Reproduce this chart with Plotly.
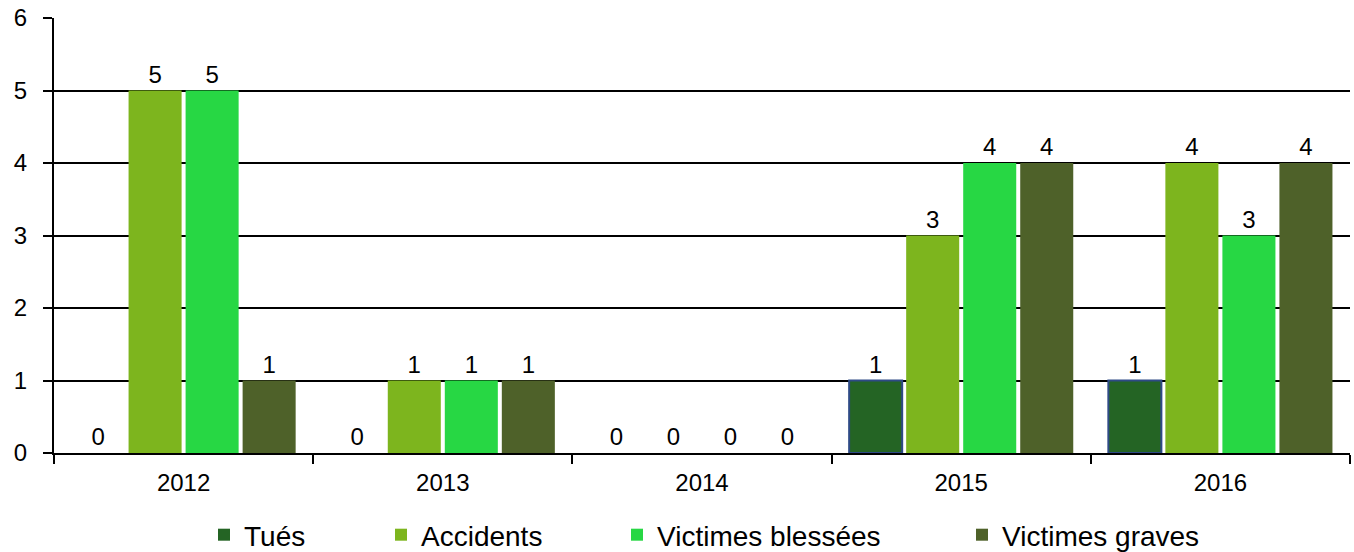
import plotly.graph_objects as go

years = ["2012", "2013", "2014", "2015", "2016"]
tues = [0, 0, 0, 1, 1]
accidents = [5, 1, 0, 3, 4]
blessees = [5, 1, 0, 4, 3]
graves = [1, 1, 0, 4, 4]

series = [
    ("Tués", tues, "#246424", "#2E4A86", 2, "legend"),
    ("Accidents", accidents, "#7DB51E", "#7DB51E", 0, "legend2"),
    ("Victimes blessées", blessees, "#27D744", "#27D744", 0, "legend3"),
    ("Victimes graves", graves, "#4E6129", "#4E6129", 0, "legend4"),
]

FONT = "Liberation Sans, Arial, sans-serif"
fig = go.Figure()
for name, vals, col, lcol, lw, lg in series:
    fig.add_trace(go.Bar(
        x=years, y=vals, name=name,
        marker=dict(color=col, line=dict(color=lcol, width=[lw if v > 0 else 0 for v in vals])),
        text=[str(v) for v in vals], textposition="outside",
        textfont=dict(size=24, color="black", family=FONT),
        cliponaxis=False, legend=lg,
    ))

W, H = 1354, 552
L, R, T, B = 54, 4, 18, 99
pw = W - L - R

def lx(px):
    return (px - L) / pw

ly = (H - 535) / H
legend_common = dict(orientation="h", yanchor="middle", xanchor="left",
                     yref="container",
                     font=dict(size=28, family=FONT, color="black"),
                     bgcolor="rgba(0,0,0,0)", itemwidth=30)

fig.update_layout(
    width=W, height=H,
    margin=dict(l=L, r=R, t=T, b=B),
    paper_bgcolor="white", plot_bgcolor="white",
    font=dict(family=FONT, size=24, color="black"),
    barmode="group", bargap=0.12, bargroupgap=0.07,
    showlegend=True,
    legend=dict(x=lx(204), y=ly, **legend_common),
    legend2=dict(x=lx(381), y=ly, **legend_common),
    legend3=dict(x=lx(617), y=ly, **legend_common),
    legend4=dict(x=lx(962), y=ly, **legend_common),
    xaxis=dict(
        type="category", tickson="boundaries", ticks="outside", ticklen=9,
        tickcolor="black", tickwidth=1.5, showline=True, linecolor="black",
        linewidth=1.5, showgrid=False, tickfont=dict(size=24), automargin=False,
        ticklabelstandoff=7,
    ),
    yaxis=dict(
        range=[0, 6], dtick=1, ticks="outside", ticklen=9, tickcolor="black",
        tickwidth=1.5, showline=True, linecolor="black", linewidth=2,
        showgrid=True, gridcolor="black", gridwidth=1.5, zeroline=False,
        tickfont=dict(size=24), ticklabelstandoff=11, automargin=False,
    ),
)

fig.write_html(
    "out.html",
    config={"displayModeBar": False},
    post_script="document.body.style.margin='0';document.body.style.overflow='hidden';",
)
